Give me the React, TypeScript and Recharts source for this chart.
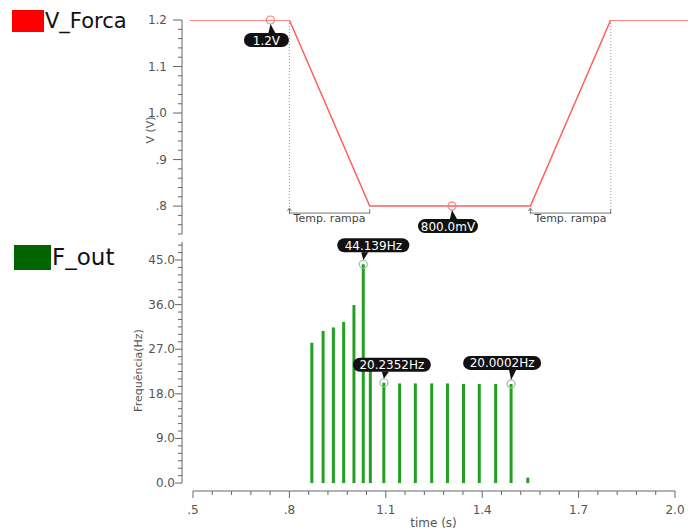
import { Bar, ComposedChart, Line, LineChart, ReferenceDot, ReferenceLine, XAxis, YAxis } from "recharts";

// V_Forca ramp (time in s, volts)
const rampTimes = [0.49, 0.8, 1.05, 1.55, 1.8, 2.04];
const rampVolts = [1.2, 1.2, 0.8, 0.8, 1.2, 1.2];

// F_out pulses (time in s, Hz)
const pulseTimes = [0.87, 0.905, 0.937, 0.969, 1.001, 1.03, 1.052, 1.094, 1.143, 1.192, 1.243, 1.292, 1.342, 1.391, 1.442, 1.49, 1.542];
const pulseFreqs = [28.3, 30.7, 31.4, 32.5, 35.9, 44.139, 24.5, 20.2352, 20.1, 20.1, 20.1, 20.1, 20.0, 20.0, 20.0, 20.0002, 1.1];

// cursor markers on the voltage trace
const markerTimes = [0.741, 1.306];
const markerVolts = [1.2, 0.8];

// "Temp. rampa" spans
const rampSpans = [
  [0.8, 1.05],
  [1.55, 1.8],
];
const guideTimes = [0.8, 1.8];

const voltMajor = [0.8, 0.9, 1.0, 1.1, 1.2];
const voltLabels = [".8", ".9", "1.0", "1.1", "1.2"];
const freqMajor = [0, 9, 18, 27, 36, 45];
const freqLabels = ["0.0", "9.0", "18.0", "27.0", "36.0", "45.0"];
const timeMajor = [0.5, 0.8, 1.1, 1.4, 1.7, 2.0];
const timeLabels = [".5", ".8", "1.1", "1.4", "1.7", "2.0"];

const X_MIN = 0.4658;
const X_MAX_TOP = 2.0405;
const X_MAX = 2.0;
const V_MIN = 0.74;
const F_MIN = -1.6;
const F_MAX = 48.63;
const DIM_Y = 0.785;

const steps = (from: number, to: number, step: number) => {
  const out: number[] = [];
  for (let i = 0; from + i * step <= to + 1e-9; i++) out.push(+(from + i * step).toFixed(4));
  return out;
};

const voltTicks = steps(V_MIN, 1.2, 0.02);
const freqTicks = steps(0, 48, 1.5);
const timeTicks = steps(0.5, 2.0, 0.06);

const rampData = rampTimes.map((t, i) => ({ t, v: rampVolts[i] }));
const pulseData = pulseTimes.map((t, i) => ({ t, f: pulseFreqs[i] }));

const AXIS = "#666";
const LABEL = "#555";

const findMajor = (arr: number[], v: number) => arr.findIndex((m) => Math.abs(m - v) < 1e-6);

const makeYTick = (majors: number[], labels: string[], majorLen: number, gap: number) => (p: any) => {
  const { x, y, payload } = p;
  const i = findMajor(majors, payload.value);
  return (
    <g>
      <line x1={x - (i >= 0 ? majorLen : 4)} x2={x} y1={y} y2={y} stroke={AXIS} />
      {i >= 0 && (
        <text x={x - gap} y={y} textAnchor="end" dominantBaseline="central" fontSize={12} fill={LABEL}>
          {labels[i]}
        </text>
      )}
    </g>
  );
};

const XTick = (p: any) => {
  const { x, y, payload } = p;
  const i = findMajor(timeMajor, payload.value);
  return (
    <g>
      <line x1={x} x2={x} y1={y} y2={y + (i >= 0 ? 7 : 4)} stroke={AXIS} />
      {i >= 0 && (
        <text x={x} y={y + 19} textAnchor="middle" dominantBaseline="central" fontSize={12} fill={LABEL}>
          {timeLabels[i]}
        </text>
      )}
    </g>
  );
};

const callout = (text: string, dx: number, dy: number, w: number, ring: string) => (p: any) => {
  const { cx, cy } = p;
  const bx = cx + dx;
  const by = cy + dy;
  const h = 14;
  const below = dy > 0;
  const edge = below ? by - h / 2 : by + h / 2;
  const tip = below ? cy + 4 : cy - 4;
  return (
    <g>
      <circle cx={cx} cy={cy} r={4} fill="none" stroke={ring} strokeWidth={1.2} />
      <path d={`M${cx},${tip} L${cx - 2},${edge} L${cx + 5},${edge} Z`} fill="#111" />
      <rect x={bx - w / 2} y={by - h / 2} width={w} height={h} rx={7} fill="#111" />
      <text x={bx} y={by + 0.5} textAnchor="middle" dominantBaseline="central" fill="#fff" fontSize={12}>
        {text}
      </text>
    </g>
  );
};

const DimLine = (p: any) => {
  const { x1, y1, x2, y2 } = p;
  return (
    <g stroke="#777" strokeWidth={1}>
      <line x1={x1} y1={y1} x2={x2} y2={y2} />
      <line x1={x1} y1={y1 - 4} x2={x1} y2={y1 + 1} />
      <line x1={x2} y1={y2 - 4} x2={x2} y2={y2 + 1} />
      <path d={`M${x1},${y1 - 5} L${x1 - 2},${y1 - 2} M${x1},${y1 - 5} L${x1 + 2},${y1 - 2}`} />
    </g>
  );
};

function Legend({ top, left, w, h, color, text, size }: any) {
  return (
    <div style={{ position: "absolute", top, left, display: "flex", alignItems: "center" }}>
      <div style={{ width: w, height: h, background: color }} />
      <span style={{ fontSize: size, color: "#111", marginLeft: 1, lineHeight: 1 }}>{text}</span>
    </div>
  );
}

export default function App() {
  return (
    <div
      style={{
        position: "absolute",
        left: 0,
        top: 0,
        width: 688,
        height: 532,
        background: "#fff",
        fontFamily: "'DejaVu Sans', sans-serif",
        overflow: "hidden",
      }}
    >
      <Legend top={10} left={12} w={32} h={22} color="#ff0000" text="V_Forca" size={21} />
      <Legend top={245} left={14} w={37} h={25} color="#006400" text="F_out" size={23} />

      <div style={{ position: "absolute", left: 0, top: 0 }}>
        <ComposedChart width={688} height={532} data={pulseData} margin={{ top: 242, right: 13, bottom: 0, left: 94 }}>
          <XAxis
            type="number"
            dataKey="t"
            domain={[X_MIN, X_MAX]}
            ticks={timeTicks}
            interval={0}
            height={41}
            tickSize={0}
            tickMargin={0}
            tickLine={false}
            axisLine={false}
            tick={XTick}
            allowDataOverflow
            label={{ value: "time (s)", position: "insideBottom", offset: 5, dx: 5, fontSize: 12, fill: LABEL }}
          />
          <YAxis
            type="number"
            domain={[F_MIN, F_MAX]}
            ticks={freqTicks}
            interval={0}
            width={88}
            tickSize={0}
            tickMargin={0}
            tickLine={false}
            axisLine={false}
            tick={makeYTick(freqMajor, freqLabels, 7, 7)}
            allowDataOverflow
            label={{ value: "Frequência(Hz)", angle: -90, position: "center", fontSize: 11, fill: LABEL, dy: 4 }}
          />
          <ReferenceLine
            segment={[
              { x: X_MIN, y: 0 },
              { x: X_MIN, y: F_MAX },
            ]}
            stroke={AXIS}
            ifOverflow="visible"
          />
          <ReferenceLine
            segment={[
              { x: 0.5, y: F_MIN },
              { x: X_MAX, y: F_MIN },
            ]}
            stroke={AXIS}
            ifOverflow="visible"
          />
          <Bar dataKey="f" barSize={3} fill="#22a022" isAnimationActive={false} />
          <ReferenceDot x={pulseTimes[5]} y={pulseFreqs[5]} ifOverflow="visible" shape={callout("44.139Hz", 10, -19, 72, "#8fc88f")} />
          <ReferenceDot x={pulseTimes[7]} y={pulseFreqs[7]} ifOverflow="visible" shape={callout("20.2352Hz", 8, -18, 78, "#8fc88f")} />
          <ReferenceDot x={pulseTimes[15]} y={pulseFreqs[15]} ifOverflow="visible" shape={callout("20.0002Hz", -9, -21, 78, "#8fc88f")} />
        </ComposedChart>
      </div>

      <div style={{ position: "absolute", left: 0, top: 0 }}>
        <LineChart width={688} height={532} data={rampData} margin={{ top: 20, right: 0, bottom: 298, left: 118 }}>
          <XAxis type="number" dataKey="t" domain={[X_MIN, X_MAX_TOP]} hide allowDataOverflow />
          <YAxis
            type="number"
            domain={[V_MIN, 1.2]}
            ticks={voltTicks}
            interval={0}
            width={64}
            tickSize={0}
            tickMargin={0}
            tickLine={false}
            axisLine={{ stroke: AXIS }}
            tick={makeYTick(voltMajor, voltLabels, 9, 15)}
            allowDataOverflow
            label={{ value: "V (V)", angle: -90, position: "center", fontSize: 11, fill: LABEL, dy: 3 }}
          />
          {guideTimes.map((g) => (
            <ReferenceLine
              key={g}
              segment={[
                { x: g, y: 1.2 },
                { x: g, y: DIM_Y },
              ]}
              stroke="#999"
              strokeDasharray="1 2"
              ifOverflow="visible"
            />
          ))}
          {rampSpans.map(([a, b]) => (
            <ReferenceLine
              key={a}
              segment={[
                { x: a, y: DIM_Y },
                { x: b, y: DIM_Y },
              ]}
              shape={DimLine}
              ifOverflow="visible"
              label={{ value: "Temp. rampa", position: "bottom", offset: 1, fontSize: 11, fill: "#444" }}
            />
          ))}
          <Line type="linear" dataKey="v" stroke="#ff5f5f" strokeWidth={1.5} dot={false} isAnimationActive={false} />
          <ReferenceDot x={markerTimes[0]} y={markerVolts[0]} ifOverflow="visible" shape={callout("1.2V", -4, 20, 45, "#ff7b7b")} />
          <ReferenceDot x={markerTimes[1]} y={markerVolts[1]} ifOverflow="visible" shape={callout("800.0mV", -4, 20, 60, "#ff7b7b")} />
        </LineChart>
      </div>
    </div>
  );
}
